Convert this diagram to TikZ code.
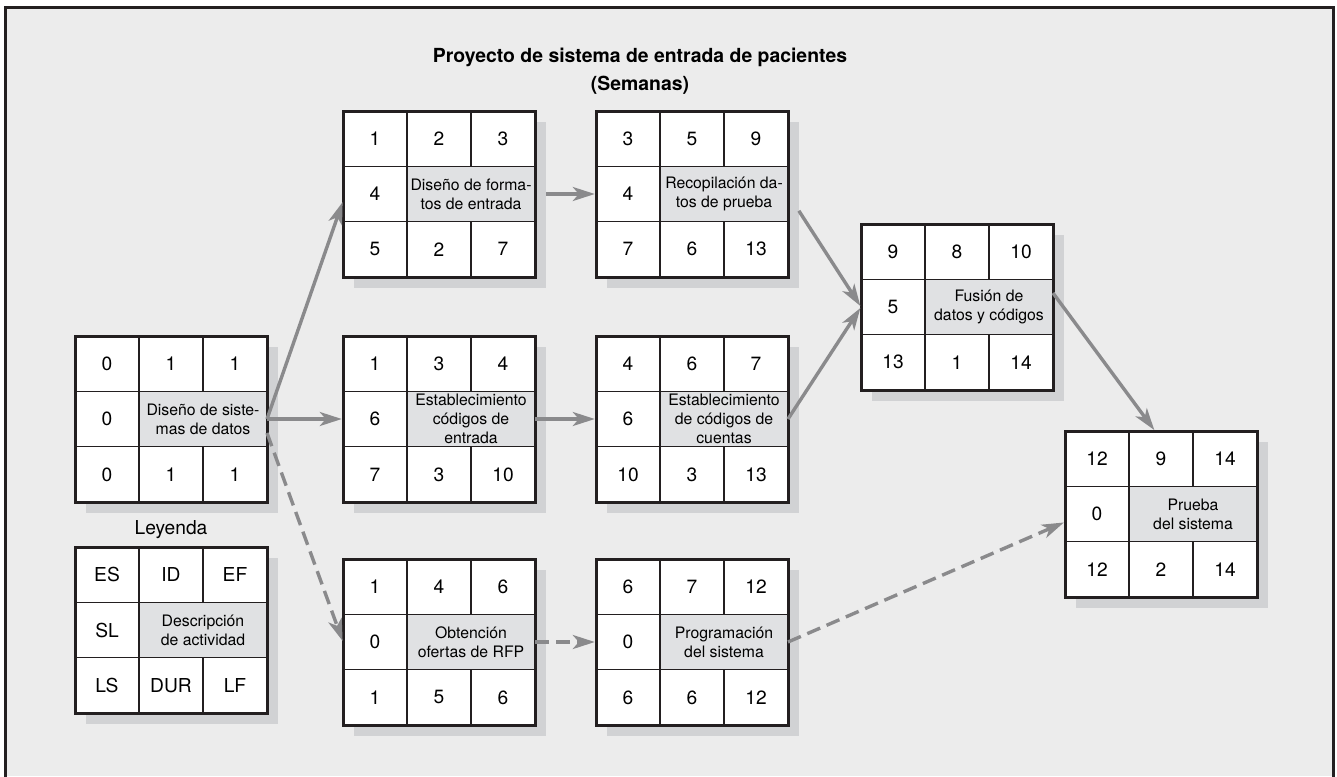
\documentclass[tikz,border=0pt]{standalone}
\usepackage{fontspec}
\setmainfont{TeX Gyre Heros}
\usepackage{tikz}
\usetikzlibrary{arrows.meta}
\usetikzlibrary{calc}

\definecolor{fondo}{RGB}{236,236,236}
\definecolor{sombra}{RGB}{209,210,212}
\definecolor{gristexto}{RGB}{224,225,227}
\definecolor{grisflecha}{RGB}{138,138,140}
\definecolor{marco}{RGB}{35,31,32}

\begin{document}
\begin{tikzpicture}[x=0.5pt, y=-0.5pt,
    cell/.style={inner sep=0pt, font=\fontsize{9.6}{11}\selectfont},
    desc/.style={fill=gristexto, minimum width=64pt, minimum height=27.67pt, inner sep=0pt, align=center, font=\fontsize{7.9}{9.4}\selectfont},
    actbox/.style={fill=white, minimum width=96pt, minimum height=83pt, inner sep=0pt, outer sep=0pt},
    flecha/.style={draw=grisflecha, line width=1.7pt, -{Stealth[length=11pt, width=7pt, inset=3pt]}, shorten >=0.6pt},
    flechapunt/.style={flecha, dash pattern=on 7pt off 3.5pt}]

        \useasboundingbox (0,0) rectangle (1337,776);

        % Background and frame (open at the bottom)
        \fill[fondo] (5.5,7.5) rectangle (1333.5,776);
        \draw[marco, line width=1.7pt] (5.5,800) -- (5.5,7.5) -- (1333.5,7.5) -- (1333.5,800);

        % Title
        \node[anchor=base, font=\bfseries\fontsize{9.7}{12}\selectfont] (titulo) at (640,62) {Proyecto de sistema de entrada de pacientes};
        \node[anchor=base, font=\bfseries\fontsize{9.7}{12}\selectfont] (semanas) at (640,90) {(Semanas)};

        % Legend caption
        \node[anchor=base, font=\fontsize{9.6}{11}\selectfont] (leyendatit) at (171,534) {Leyenda};

        % Activity boxes: name / left / top / ES / ID / EF / SL / description / LS / DUR / LF
        \foreach \nm/\px/\py/\tes/\tid/\tef/\tsl/\tdesc/\tls/\tdur/\tlf in {
            sistemas/75/336/0/1/1/0/{Diseño de siste-\\mas de datos}/0/1/1,
            formatos/343/111/1/2/3/4/{Diseño de forma-\\tos de entrada}/5/2/7,
            recop/596/111/3/5/9/4/{Recopilación da-\\tos de prueba}/7/6/13,
            codent/343/336/1/3/4/6/{Establecimiento\\códigos de\\entrada}/7/3/10,
            codcue/596/336/4/6/7/6/{Establecimiento\\de códigos de\\cuentas}/10/3/13,
            rfp/343/559/1/4/6/0/{Obtención\\ofertas de RFP}/1/5/6,
            prog/596/559/6/7/12/0/{Programación\\del sistema}/6/6/12,
            fusion/861/224/9/8/10/5/{Fusión de\\datos y códigos}/13/1/14,
            prueba/1065/431/12/9/14/0/{Prueba\\del sistema}/12/2/14,
            leyenda/75/547/ES/ID/EF/SL/{Descripción\\de actividad}/LS/DUR/LF} {
          % shadow
          \fill[sombra] (\px+11,\py+11) rectangle ++(192,166);

          % white body and grey description cell
          \node[actbox] (\nm) at (\px+96,\py+83) {};
          \node[desc] (\nm-desc) at (\px+128,\py+83) {\tdesc};

          % inner grid and outer border
          \draw[marco, line width=0.6pt] (\px+64,\py) -- ++(0,166)
            (\px+128,\py) -- ++(0,55.33) (\px+128,\py+110.67) -- ++(0,55.33)
            (\px,\py+55.33) -- ++(192,0) (\px,\py+110.67) -- ++(192,0);
          \draw[marco, line width=1.5pt] (\px,\py) rectangle ++(192,166);

          % numbers
          \node[cell] (\nm-es) at (\px+32,\py+27.67) {\tes};
          \node[cell] (\nm-id) at (\px+96,\py+27.67) {\tid};
          \node[cell] (\nm-ef) at (\px+160,\py+27.67) {\tef};
          \node[cell] (\nm-sl) at (\px+32,\py+83) {\tsl};
          \node[cell] (\nm-ls) at (\px+32,\py+138.33) {\tls};
          \node[cell] (\nm-dur) at (\px+96,\py+138.33) {\tdur};
          \node[cell] (\nm-lf) at (\px+160,\py+138.33) {\tlf};
        }

        % Precedence arrows
        \draw[flecha] (sistemas.east) -- ([yshift=-3.5pt]formatos.west);
        \draw[flecha] (sistemas.east) -- (codent.west);
        \draw[flechapunt] ([yshift=-7pt]sistemas.east) -- (rfp.west);
        \draw[flecha, shorten <=5.5pt] (formatos.east) -- (recop.west);
        \draw[flecha] (codent.east) -- (codcue.west);
        \draw[flechapunt] (rfp.east) -- (prog.west);
        \draw[flecha, shorten <=10pt] (recop.east) -- (fusion.west);
        \draw[flecha] (codcue.east) -- (fusion.west);
        \draw[flecha] ([yshift=7pt]fusion.east) -- ([xshift=-3pt]prueba.north);
        \draw[flechapunt] (prog.east) -- ([yshift=-4pt]prueba.west);

      \end{tikzpicture}
\end{document}
